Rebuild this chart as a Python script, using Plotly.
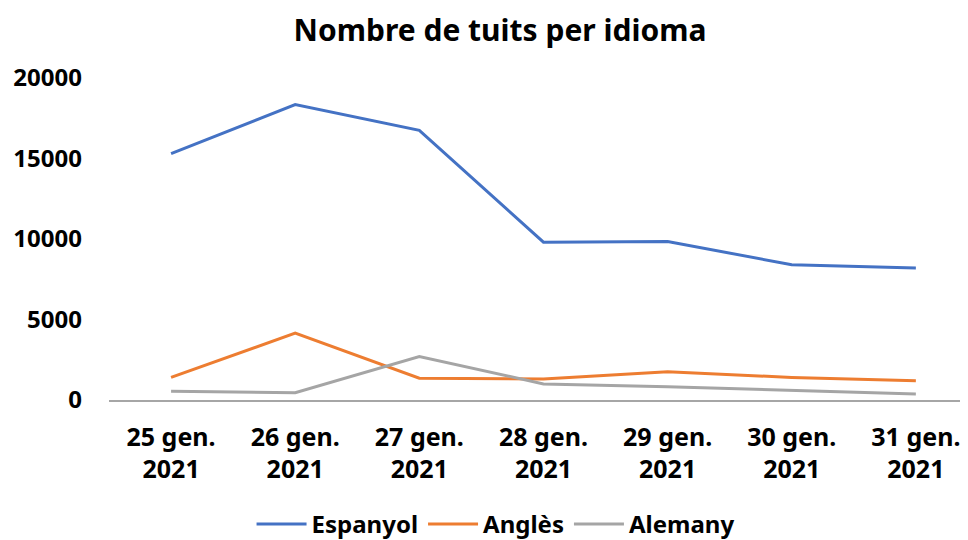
import plotly.graph_objects as go

categories = ["25 gen.<br>2021", "26 gen.<br>2021", "27 gen.<br>2021", "28 gen.<br>2021",
              "29 gen.<br>2021", "30 gen.<br>2021", "31 gen.<br>2021"]
espanyol = [15300, 18350, 16750, 9800, 9850, 8400, 8200]
angles = [1400, 4150, 1350, 1300, 1750, 1400, 1200]
alemany = [550, 450, 2700, 1000, 830, 580, 370]
y_ticks = [0, 5000, 10000, 15000, 20000]

series = [("Espanyol", espanyol, "#4472C4"),
          ("Anglès", angles, "#ED7D31"),
          ("Alemany", alemany, "#A5A5A5")]

FONT = "Noto Sans"

fig = go.Figure()
for name, vals, col in series:
    fig.add_trace(go.Scatter(x=list(range(len(categories))), y=vals, name="<b>" + name + "</b>",
                             mode="lines", line=dict(color=col, width=3)))

fig.update_layout(
    width=960, height=532,
    margin=dict(l=101, r=0, t=70, b=140, autoexpand=False),
    paper_bgcolor="white", plot_bgcolor="white",
    font=dict(family=FONT, size=23, color="black"),
    title=dict(text="<b>Nombre de tuits per idioma</b>", x=0.5125, xanchor="center",
               y=0.9586, yanchor="middle", font=dict(family=FONT, size=30, color="black")),
    showlegend=True,
    legend=dict(orientation="h", x=0.45, xanchor="center", y=-0.386, yanchor="middle",
                font=dict(family=FONT, size=24, color="black"), traceorder="normal",
                itemwidth=50),
)
fig.update_xaxes(
    tickmode="array", tickvals=list(range(len(categories))),
    ticktext=["<b>" + c.replace("<br>", "</b><br><b>") + "</b>" for c in categories],
    tickfont=dict(size=25),
    range=[-0.5, 6.42], showgrid=False, zeroline=False,
    showline=True, linecolor="#A6A6A6", linewidth=1.5,
    ticks="", ticklabelstandoff=14,
)
fig.update_yaxes(
    range=[0, 20000], tickvals=y_ticks,
    ticktext=["<b>%d</b>" % v for v in y_ticks],
    tickfont=dict(size=24),
    showgrid=False, zeroline=False, showline=False, ticks="", ticklabelstandoff=26,
)

fig.write_html("out.html")
